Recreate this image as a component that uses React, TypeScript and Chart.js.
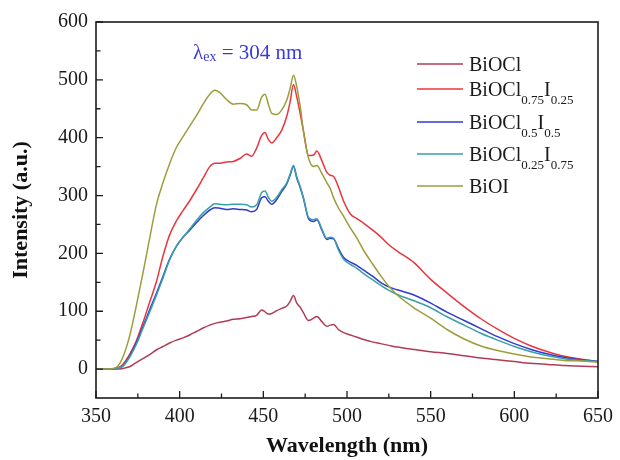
import React, { useEffect, useRef } from 'react';
import { Chart, registerables } from 'chart.js';

Chart.register(...registerables);

// ---- data ----
const wavelengths = [350, 355, 360, 363, 366, 370, 374, 378, 382, 386, 390, 394, 398, 402, 406, 410, 414, 418, 421, 424, 428, 432, 436, 440, 443, 446, 449, 451, 453, 455, 458, 461, 464, 466, 468, 470, 472, 474, 477, 480, 482, 485, 488, 490, 492, 495, 498, 502, 506, 510, 515, 520, 525, 530, 540, 550, 560, 570, 580, 590, 600, 610, 620, 630, 640, 650];

const bioclValues = [0, 0, 0, 0, 1, 4, 11, 18, 25, 33, 39, 45, 50, 54, 59, 65, 71, 76, 79, 81, 83, 86, 87, 89, 91, 93, 102, 99, 95, 96, 101, 105, 109, 117, 127, 114, 107, 97, 84, 88, 91, 82, 74, 76, 77, 68, 63, 59, 55, 51, 47, 44, 41, 38, 34, 30, 27, 23, 19, 16, 13, 10, 8, 6, 5, 4];

const bi075Values = [0, 0, 0, 2, 8, 25, 48, 80, 115, 150, 195, 232, 256, 274, 291, 310, 330, 350, 356, 356, 358, 359, 364, 372, 368, 382, 404, 409, 397, 391, 400, 413, 437, 462, 492, 470, 442, 411, 369, 370, 377, 360, 340, 335, 333, 314, 290, 268, 260, 252, 241, 229, 215, 204, 184, 155, 131, 108, 87, 69, 53, 40, 30, 22, 17, 13];

const bi05Values = [0, 0, 0, 2, 5, 22, 45, 73, 102, 130, 160, 190, 212, 228, 240, 253, 265, 275, 279, 278, 276, 277, 276, 275, 272, 276, 296, 298, 290, 285, 293, 307, 320, 335, 350, 330, 314, 295, 260, 255, 258, 240, 224, 226, 225, 208, 193, 185, 179, 171, 161, 150, 142, 137, 128, 114, 98, 84, 70, 56, 44, 34, 26, 20, 16, 13];

const bi025Values = [0, 0, 0, 2, 5, 20, 42, 70, 98, 127, 157, 189, 212, 228, 242, 257, 270, 280, 286, 285, 284, 285, 285, 284, 280, 284, 305, 308, 297, 290, 297, 310, 322, 337, 352, 332, 316, 296, 262, 258, 260, 242, 226, 228, 226, 205, 190, 181, 174, 165, 155, 145, 136, 129, 118, 106, 90, 76, 62, 50, 39, 30, 23, 18, 15, 13];

const bioiValues = [0, 0, 1, 5, 20, 56, 108, 165, 225, 283, 322, 355, 383, 402, 420, 438, 458, 475, 482, 478, 466, 458, 459, 457, 448, 448, 470, 475, 458, 442, 440, 448, 465, 485, 508, 488, 455, 411, 365, 350, 352, 338, 322, 312, 296, 278, 264, 244, 226, 205, 183, 162, 143, 128, 106, 88, 68, 52, 40, 32, 26, 21, 18, 15, 14, 12];

const xTickValues = [350, 400, 450, 500, 550, 600, 650];
const yTickValues = [0, 100, 200, 300, 400, 500, 600];

const seriesColors = ['#b03c56', '#e8363e', '#2f3bcf', '#3a9fa8', '#9d9d3c'];
// legend labels: [text, isSubscript]
const legendLabels: [string, boolean][][] = [
  [['BiOCl', false]],
  [['BiOCl', false], ['0.75', true], ['I', false], ['0.25', true]],
  [['BiOCl', false], ['0.5', true], ['I', false], ['0.5', true]],
  [['BiOCl', false], ['0.25', true], ['I', false], ['0.75', true]],
  [['BiOI', false]],
];
const seriesValues = [bioclValues, bi075Values, bi05Values, bi025Values, bioiValues];
const seriesNames = ['BiOCl', 'BiOCl0.75I0.25', 'BiOCl0.5I0.5', 'BiOCl0.25I0.75', 'BiOI'];

const SERIF = "'Liberation Serif', 'Times New Roman', serif";

const framePlugin = {
  id: 'frameTicks',
  afterDatasetsDraw(chart: any) {
    const { ctx, chartArea: a, scales } = chart;
    const x = scales.x;
    const y = scales.y;
    ctx.save();
    ctx.strokeStyle = '#1c1c1c';
    ctx.lineWidth = 1.6;
    ctx.strokeRect(a.left, a.top, a.right - a.left, a.bottom - a.top);
    ctx.lineWidth = 1.3;
    ctx.beginPath();
    for (let i = 0; i < xTickValues.length; i++) {
      const v = xTickValues[i];
      const px = x.getPixelForValue(v);
      ctx.moveTo(px, a.bottom);
      ctx.lineTo(px, a.bottom - 7);
      if (i < xTickValues.length - 1) {
        const m = x.getPixelForValue((v + xTickValues[i + 1]) / 2);
        ctx.moveTo(m, a.bottom);
        ctx.lineTo(m, a.bottom - 4.5);
      }
    }
    for (let i = 0; i < yTickValues.length; i++) {
      const v = yTickValues[i];
      const py = y.getPixelForValue(v);
      ctx.moveTo(a.left, py);
      ctx.lineTo(a.left + 7, py);
      if (i < yTickValues.length - 1) {
        const m = y.getPixelForValue((v + yTickValues[i + 1]) / 2);
        ctx.moveTo(a.left, m);
        ctx.lineTo(a.left + 4.5, m);
      }
    }
    ctx.stroke();

    // excitation label
    ctx.fillStyle = '#3a3ad6';
    ctx.textBaseline = 'alphabetic';
    ctx.textAlign = 'left';
    let tx = 193;
    const tb = 59;
    ctx.font = `21px ${SERIF}`;
    ctx.fillText('λ', tx, tb);
    tx += ctx.measureText('λ').width;
    ctx.font = `14px ${SERIF}`;
    ctx.fillText('ex', tx, tb + 2);
    tx += ctx.measureText('ex').width;
    ctx.font = `21px ${SERIF}`;
    ctx.fillText(' = 304 nm', tx, tb);

    // legend
    const legendY = [64, 89, 122, 154, 186];
    for (let i = 0; i < legendLabels.length; i++) {
      const ly = legendY[i];
      ctx.strokeStyle = seriesColors[i];
      ctx.lineWidth = 1.6;
      ctx.beginPath();
      ctx.moveTo(417, ly);
      ctx.lineTo(463, ly);
      ctx.stroke();
      let lx = 469;
      ctx.fillStyle = '#1a1a1a';
      for (const [t, sub] of legendLabels[i]) {
        ctx.font = sub ? `13px ${SERIF}` : `20px ${SERIF}`;
        ctx.fillText(t, lx, sub ? ly + 15 : ly + 7);
        lx += ctx.measureText(t).width;
      }
    }
    ctx.restore();
  },
};

export default function App() {
  const ref = useRef<HTMLCanvasElement | null>(null);
  useEffect(() => {
    if (!ref.current) return;
    const chart = new Chart(ref.current, {
      type: 'line',
      data: {
        datasets: seriesValues.map((vals, i) => ({
          label: seriesNames[i],
          data: wavelengths.map((w, j) => ({ x: w, y: vals[j] })),
          borderColor: seriesColors[i],
          backgroundColor: seriesColors[i],
          borderWidth: 1.5,
          pointRadius: 0,
          cubicInterpolationMode: 'monotone' as const,
          fill: false,
          order: 5 - i,
        })),
      },
      options: {
        animation: false,
        responsive: false,
        layout: { padding: { top: 22, right: 18, left: 0, bottom: 0 } },
        plugins: { legend: { display: false }, tooltip: { enabled: false } },
        scales: {
          x: {
            type: 'linear',
            min: 350,
            max: 650,
            afterBuildTicks: (s: any) => { s.ticks = xTickValues.map((v) => ({ value: v })); },
            afterFit: (s: any) => { s.height = 62; },
            grid: { display: false, drawTicks: false },
            border: { display: false },
            ticks: { font: { family: SERIF, size: 20 }, color: '#1a1a1a', padding: 7, maxRotation: 0, autoSkip: false },
            title: { display: true, text: 'Wavelength (nm)', font: { family: SERIF, size: 22, weight: 'bold' }, color: '#111', padding: { top: 0, bottom: 0 } },
          },
          y: {
            type: 'linear',
            min: -50,
            max: 600,
            afterBuildTicks: (s: any) => { s.ticks = yTickValues.map((v) => ({ value: v })); },
            afterFit: (s: any) => { s.width = 96; },
            grid: { display: false, drawTicks: false },
            border: { display: false },
            ticks: { font: { family: SERIF, size: 20 }, color: '#1a1a1a', padding: 8 },
            title: { display: true, text: 'Intensity (a.u.)', font: { family: SERIF, size: 22, weight: 'bold' }, color: '#111', padding: { top: 8, bottom: 0 } },
          },
        },
      },
      plugins: [framePlugin],
    } as any);
    return () => chart.destroy();
  }, []);
  return (
    <div style={{ position: 'absolute', left: 0, top: 0, width: 620, height: 460, background: '#fff' }}>
      <canvas ref={ref} width={620} height={460} style={{ display: 'block' }} />
    </div>
  );
}
